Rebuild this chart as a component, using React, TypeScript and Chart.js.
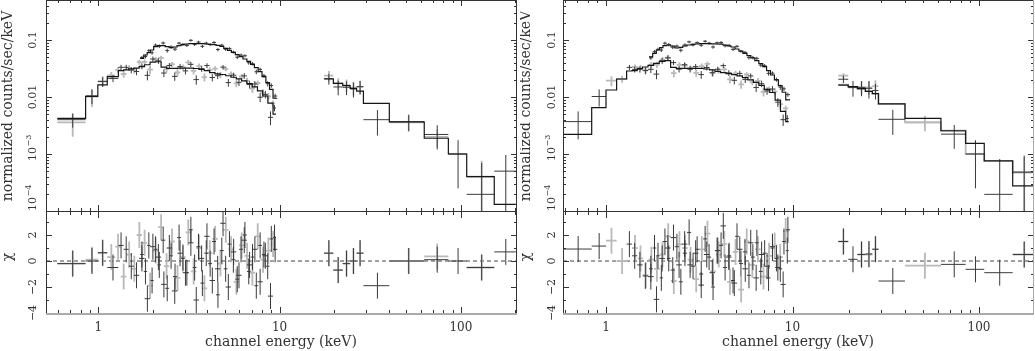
import React, { useEffect, useRef } from "react";
import { Chart, registerables } from "chart.js";

Chart.register(...registerables);

type V = number | null;

// ---------------- axis text ----------------
const X_TICK_VALUES = [1, 10, 100];
const X_TICK_LABELS = ["1", "10", "100"];
const Y_TICK_VALUES_MAIN = [0.1, 0.01, 0.001, 0.0001];
const Y_TICK_LABELS_MAIN = ["0.1", "0.01", "10^\u22123", "10^\u22124"];
const Y_TICK_ALIGN_MAIN = ["center", "center", "center", "start"];
const Y_TICK_VALUES_RES = [2, 0, -2, -4];
const Y_TICK_LABELS_RES = ["2", "0", "\u22122", "\u22124"];
const X_TITLE = "channel energy (keV)";
const Y_TITLE = "normalized counts/sec/keV";
const RES_TITLE = "\u03c7";

// axis ranges
const Y_MAIN_MAX = 0.503;
const Y_MAIN_MIN = 1.624e-6;
const MAIN_FLOOR = 1e-4;
const Y_RES_MIN = -4;
const Y_RES_MAX = 20.077;

// ---------------- shared soft (upper spectrum) binning ----------------
const U_EDGES = [1.70, 1.78, 1.86, 1.94, 2.02, 2.12, 2.22, 2.34, 2.46, 2.58, 2.72, 2.86, 3.00, 3.16, 3.32, 3.48, 3.66, 3.84, 4.04, 4.24, 4.46, 4.68, 4.92, 5.16, 5.42, 5.70, 5.98, 6.28, 6.60, 6.92, 7.26, 7.62, 8.00, 8.40, 8.80, 9.20, 9.70];

// ================= LEFT PANEL =================
const L_U_VAL = [0.0494, 0.0514, 0.0650, 0.0598, 0.0812, 0.0778, 0.0884, 0.0652, 0.0755, 0.0691, 0.0881, 0.0838, 0.0804, 0.0986, 0.0836, 0.0919, 0.0774, 0.0881, 0.0830, 0.0905, 0.0680, 0.0811, 0.0688, 0.0710, 0.0612, 0.0499, 0.0542, 0.0529, 0.0399, 0.0382, 0.0277, 0.0305, 0.0236, 0.0171, 0.0159, 0.0104];
const L_U_ERR = [0.0033, 0.0038, 0.0042, 0.0047, 0.0053, 0.0056, 0.0056, 0.0053, 0.0051, 0.0053, 0.0048, 0.0050, 0.0051, 0.0052, 0.0052, 0.0052, 0.0052, 0.0051, 0.0050, 0.0050, 0.0048, 0.0046, 0.0043, 0.0040, 0.0036, 0.0039, 0.0036, 0.0032, 0.0030, 0.0026, 0.0026, 0.0022, 0.0018, 0.0018, 0.0014, 0.0010];
const L_U_MOD = [0.0477, 0.0545, 0.0600, 0.0668, 0.0764, 0.0795, 0.0795, 0.0764, 0.0734, 0.0754, 0.0795, 0.0828, 0.0850, 0.0862, 0.0862, 0.0862, 0.0862, 0.0850, 0.0840, 0.0830, 0.0806, 0.0774, 0.0714, 0.0659, 0.0608, 0.0553, 0.0510, 0.0464, 0.0423, 0.0374, 0.0327, 0.0278, 0.0227, 0.0178, 0.0136, 0.0095];
const L_U_RES = [0.5, -0.8, 1.2, -1.5, 0.9, -0.3, 1.6, -2.1, 0.4, -1.2, 1.8, 0.2, -0.9, 2.4, -0.5, 1.1, -1.7, 0.6, -0.2, 1.5, -2.6, 0.8, -0.6, 1.3, 0.1, -1.4, 0.9, 2.0, -0.8, 0.3, -1.9, 1.2, 0.5, -0.4, 1.7, 0.9];

const L_S1_EDGES = [0.594, 0.851, 0.994, 1.12, 1.29, 1.38, 1.47, 1.57, 1.68, 1.80, 1.93, 2.07, 2.22, 2.38, 2.55, 2.73, 2.92, 3.13, 3.35, 3.59, 3.84, 4.11, 4.40, 4.71, 5.04, 5.39, 5.77, 6.17, 6.60, 7.06, 7.55, 8.07, 8.62, 9.20, 9.55];
const L_S1_VAL: V[] = [0.0040, 0.0105, 0.0186, 0.0212, 0.0332, 0.0332, 0.0297, 0.0280, 0.0348, 0.0240, 0.0464, 0.0430, 0.0263, 0.0356, 0.0230, 0.0343, 0.0287, 0.0374, 0.0202, 0.0313, 0.0356, 0.0220, 0.0237, 0.0334, 0.0179, 0.0241, 0.0181, 0.0235, 0.0165, 0.0169, 0.0099, 0.0111, 0.0044, 0.0064];
const L_S1_ERR: V[] = [0.0011, 0.0030, 0.0035, 0.0030, 0.0035, 0.0036, 0.0037, 0.0039, 0.0041, 0.0044, 0.0049, 0.0050, 0.0040, 0.0038, 0.0038, 0.0038, 0.0039, 0.0038, 0.0038, 0.0037, 0.0035, 0.0032, 0.0031, 0.0030, 0.0028, 0.0027, 0.0025, 0.0027, 0.0024, 0.0021, 0.0018, 0.0017, 0.0012, 0.0008];
const L_S1_MOD = [0.00423, 0.0102, 0.01625, 0.0227, 0.0290, 0.0300, 0.0312, 0.0322, 0.0340, 0.0368, 0.0410, 0.0415, 0.0335, 0.0318, 0.0318, 0.0320, 0.0322, 0.0320, 0.0316, 0.0306, 0.0290, 0.0268, 0.0255, 0.0248, 0.0236, 0.0222, 0.0208, 0.0192, 0.0172, 0.0150, 0.0128, 0.0104, 0.0078, 0.0050];
const L_S1_RES: V[] = [-0.2, 0.0, 0.64, -0.5, 1.2, 0.9, -0.4, -1.1, 0.2, -2.9, 1.1, 0.3, -1.8, 1.0, -2.3, 0.6, -0.9, 1.4, -3.0, 0.2, 1.9, -1.5, -0.6, 2.9, -2.0, 0.7, -1.1, 1.6, -0.3, 0.9, -1.6, 0.4, -2.7, 1.8];

const L_S2_EDGES = [0.594, 0.851, 0.994, 1.12, 1.24, 1.33, 1.43, 1.53, 1.63, 1.74, 1.86, 2.00, 2.14, 2.30, 2.46, 2.64, 2.83, 3.03, 3.24, 3.47, 3.72, 3.98, 4.26, 4.56, 4.88, 5.22, 5.58, 5.97, 6.39, 6.84, 7.32, 7.83, 8.38, 8.96, 9.45];
const L_S2_VAL: V[] = [0.0036, 0.0102, 0.0190, 0.0240, 0.0300, 0.0253, 0.0324, 0.0295, 0.0409, 0.0413, 0.0301, 0.0455, 0.0485, 0.0309, 0.0375, 0.0269, 0.0333, 0.0406, 0.0287, 0.0348, 0.0223, 0.0299, 0.0314, 0.0245, 0.0312, 0.0254, 0.0174, 0.0229, 0.0192, 0.0141, 0.0176, 0.0118, 0.0103, 0.0077];
const L_S2_ERR: V[] = [0.0016, 0.0035, 0.0040, 0.0035, 0.0035, 0.0035, 0.0037, 0.0038, 0.0040, 0.0042, 0.0047, 0.0050, 0.0044, 0.0039, 0.0038, 0.0038, 0.0039, 0.0039, 0.0038, 0.0037, 0.0036, 0.0033, 0.0031, 0.0030, 0.0029, 0.0027, 0.0026, 0.0024, 0.0025, 0.0023, 0.0019, 0.0019, 0.0015, 0.0010];
const L_S2_RES: V[] = [-0.2, 0.1, 0.6, 0.3, 1.1, -1.2, 0.5, -0.6, 2.0, 1.4, -1.9, 0.8, 2.6, -0.4, 1.5, -1.3, 0.3, 2.2, -0.8, 1.0, -2.1, 0.6, 1.7, -0.2, 2.4, 0.9, -1.6, 1.2, 0.4, -0.9, 1.9, 0.1, 0.8, 1.3];

const L_H_EDGES = [17.6, 19.8, 22.3, 24.5, 26.6, 29.0, 40.3, 62.8, 85.3, 107.7, 152.8, 201];
const L_H_MOD = [0.0207, 0.0174, 0.0158, 0.0142, 0.0127, 0.00775, 0.00364, 0.00189, 0.0010, 0.0004, 0.000131];
const L_H1_VAL: V[] = [0.0210, 0.0150, 0.0148, 0.0138, 0.0152, 0.0040, 0.0037, 0.0022, 0.0010, 0.000196, 0.0005];
const L_H1_ERR: V[] = [0.0045, 0.0043, 0.0040, 0.0040, 0.0040, 0.0019, 0.0012, 0.0010, 0.00075, 0.0005, 0.00046];
const L_H1_RES: V[] = [0.6, -0.7, -0.2, 0.0, 0.6, -1.9, 0.0, 0.1, 0.0, -0.5, 0.7];
const L_H2_VAL: V[] = [0.0237, 0.0174, 0.0162, 0.0146, 0.0150, null, 0.0036, 0.0020, null, 0.0004, null];
const L_H2_ERR: V[] = [0.0050, 0.0040, 0.0040, 0.0040, 0.0040, null, 0.0011, 0.0007, null, 0.00036, null];
const L_H2_RES: V[] = [0.6, -0.7, -0.2, 0.0, 0.6, null, 0.0, 0.35, null, -0.5, null];

// ================= RIGHT PANEL =================
const R_U_VAL = [0.0484, 0.0624, 0.0687, 0.0667, 0.0878, 0.0828, 0.0747, 0.0780, 0.0661, 0.0818, 0.0925, 0.0819, 0.0896, 0.0810, 0.0950, 0.0878, 0.0753, 0.0891, 0.0906, 0.0792, 0.0804, 0.0686, 0.0774, 0.0633, 0.0607, 0.0490, 0.0493, 0.0477, 0.0362, 0.0354, 0.0260, 0.0262, 0.0202, 0.0149, 0.0139, 0.0110];
const R_U_ERR = [0.0035, 0.0041, 0.0047, 0.0051, 0.0056, 0.0057, 0.0055, 0.0051, 0.0052, 0.0055, 0.0049, 0.0050, 0.0051, 0.0052, 0.0052, 0.0052, 0.0051, 0.0051, 0.0051, 0.0049, 0.0047, 0.0045, 0.0042, 0.0038, 0.0035, 0.0037, 0.0034, 0.0030, 0.0027, 0.0024, 0.0023, 0.0019, 0.0016, 0.0016, 0.0012, 0.0009];
const R_U_MOD = [0.0505, 0.0583, 0.0668, 0.0734, 0.0795, 0.0817, 0.0785, 0.0724, 0.0744, 0.0785, 0.0817, 0.0839, 0.0850, 0.0862, 0.0862, 0.0862, 0.0856, 0.0850, 0.0845, 0.0817, 0.0785, 0.0754, 0.0695, 0.0641, 0.0583, 0.0531, 0.0483, 0.0434, 0.0384, 0.0340, 0.0290, 0.0243, 0.0199, 0.0158, 0.0121, 0.0089];
const R_U_RES = [-0.6, 1.0, 0.4, -1.3, 1.5, 0.2, -0.7, 1.1, -1.6, 0.6, 2.2, -0.4, 0.9, -1.0, 1.7, 0.3, -2.0, 0.8, 1.2, -0.5, 0.4, -1.5, 1.9, -0.2, 0.7, -1.1, 0.3, 1.4, -0.8, 0.6, -1.3, 1.0, 0.2, -0.6, 1.5, 2.4];

const R_S1_EDGES = [0.58, 0.838, 1.0, 1.14, 1.29, 1.38, 1.47, 1.57, 1.68, 1.80, 1.93, 2.07, 2.22, 2.38, 2.55, 2.73, 2.92, 3.13, 3.35, 3.59, 3.84, 4.11, 4.40, 4.71, 5.04, 5.39, 5.77, 6.17, 6.60, 7.06, 7.55, 8.07, 8.62, 9.20, 9.55];
const R_S1_VAL: V[] = [0.0037, 0.0102, null, null, 0.0331, 0.0304, 0.0305, 0.0290, 0.0306, 0.0252, 0.0430, 0.0486, 0.0401, 0.0307, 0.0368, 0.0307, 0.0341, 0.0247, 0.0329, 0.0266, 0.0307, 0.0355, 0.0265, 0.0196, 0.0259, 0.0202, 0.0234, 0.0147, 0.0171, 0.0128, 0.0138, 0.0081, 0.0040, 0.0042];
const R_S1_ERR: V[] = [0.0019, 0.0034, null, null, 0.0034, 0.0035, 0.0038, 0.0040, 0.0043, 0.0047, 0.0050, 0.0052, 0.0040, 0.0038, 0.0038, 0.0038, 0.0038, 0.0038, 0.0037, 0.0036, 0.0034, 0.0032, 0.0031, 0.0030, 0.0028, 0.0026, 0.0024, 0.0025, 0.0022, 0.0019, 0.0017, 0.0014, 0.0009, 0.0006];
const R_S1_MOD = [0.00221, 0.0065, 0.01327, 0.0207, 0.0286, 0.0290, 0.0316, 0.0336, 0.0358, 0.0390, 0.0420, 0.0434, 0.0330, 0.0318, 0.0318, 0.0318, 0.0318, 0.0318, 0.0310, 0.0298, 0.0280, 0.0268, 0.0256, 0.0246, 0.0234, 0.0218, 0.0200, 0.0180, 0.0160, 0.0136, 0.0120, 0.0088, 0.0056, 0.0037];
const R_S1_RES: V[] = [0.92, 1.15, null, null, 1.3, 0.4, -0.3, -1.15, -1.2, -2.95, 0.2, 1.0, 1.8, -0.3, 1.3, -0.3, 0.6, -1.85, 0.5, -0.9, 0.8, 2.7, 0.3, -1.7, 0.9, -0.6, 1.4, -1.3, 0.5, -0.4, 1.1, -0.5, -1.8, 0.8];

const R_S2_EDGES = [0.58, 0.838, 1.0, 1.14, 1.30, 1.38, 1.48, 1.58, 1.69, 1.81, 1.94, 2.08, 2.23, 2.39, 2.56, 2.74, 2.94, 3.15, 3.38, 3.62, 3.88, 4.16, 4.46, 4.78, 5.12, 5.49, 5.88, 6.30, 6.75, 7.23, 7.75, 8.30, 8.89, 9.50];
const R_S2_VAL: V[] = [null, null, 0.0193, 0.0207, null, 0.0336, 0.0326, 0.0296, 0.0368, 0.0369, 0.0454, 0.0491, 0.0262, 0.0367, 0.0356, 0.0322, 0.0265, 0.0348, 0.0382, 0.0264, 0.0292, 0.0304, 0.0204, 0.0260, 0.0167, 0.0248, 0.0183, 0.0191, 0.0123, 0.0135, 0.0124, 0.0075, 0.0063];
const R_S2_ERR: V[] = [null, null, 0.0038, 0.0030, null, 0.0036, 0.0038, 0.0041, 0.0044, 0.0048, 0.0051, 0.0048, 0.0039, 0.0038, 0.0038, 0.0038, 0.0038, 0.0038, 0.0037, 0.0035, 0.0033, 0.0032, 0.0030, 0.0029, 0.0027, 0.0025, 0.0023, 0.0024, 0.0021, 0.0018, 0.0017, 0.0012, 0.0007];
const R_S2_RES: V[] = [null, null, 1.56, 0.0, null, 1.0, 0.2, -1.08, 0.1, -0.6, 0.5, 1.9, -1.54, 1.28, 1.0, 0.1, -1.4, 0.9, 2.1, -0.8, 0.5, 1.3, -1.6, 0.7, -2.2, 1.5, -0.3, 0.9, -1.2, 0.4, 1.2, 0.3, 2.3];

const R_H_EDGES = [17.6, 19.9, 22.3, 24.6, 26.8, 28.9, 40.1, 62.5, 84.8, 106.7, 151.6, 198];
const R_H_MOD = [0.0162, 0.0152, 0.0140, 0.0125, 0.0115, 0.0076, 0.0042, 0.00256, 0.00154, 0.00076, 0.000275];
const R_H2_MOD = [0.0165, 0.0150, 0.0138, 0.0127, 0.0115, 0.0076, 0.0036, 0.00256, 0.0010, 0.00076, 0.00047];
const R_H1_VAL: V[] = [0.0205, 0.0146, 0.0146, 0.0142, 0.0130, 0.00406, null, 0.00223, 0.0010, 0.000196, 0.00048];
const R_H1_ERR: V[] = [0.0030, 0.0045, 0.0043, 0.0048, 0.0040, 0.0019, null, 0.0010, 0.00075, 0.00062, 0.00046];
const R_H1_RES: V[] = [1.5, 0.13, 0.5, 0.54, 0.9, -1.54, null, -0.26, -0.64, -0.9, 0.5];
const R_H2_VAL: V[] = [0.0237, null, 0.0150, 0.0148, 0.0155, null, 0.0036, null, null, null, 0.00048];
const R_H2_ERR: V[] = [0.0025, null, 0.0040, 0.0040, 0.0042, null, 0.0011, null, null, null, 0.0004];
const R_H2_RES: V[] = [1.5, null, 0.5, 0.5, 0.92, null, -0.36, null, null, null, 0.5];

// ---------------- styling ----------------
const INK = "#333333";
const MODEL_INK = "#151515";
const DATA_INK = "#3a3a3a";
const GRAY = "#b9b9b9";
const F_XTICK = '12px "DejaVu Serif"';
const F_YTICK = '11px "DejaVu Serif"';
const F_SUP = '8px "DejaVu Serif"';
const F_TITLE = '14px "DejaVu Serif"';

interface XSet { edges: number[]; val: V[]; err: V[]; res: V[]; gray: boolean }
interface MSet { edges: number[]; val: number[]; gray: boolean }
interface Panel {
  xMin: number; xMax: number; padL: number; padR: number;
  yTickX: number; yTitleX: number; rightEdge: string;
  sets: XSet[]; models: MSet[];
}

const LEFT: Panel = {
  xMin: 0.5146, xMax: 201.4, padL: 46, padR: 4, yTickX: 33, yTitleX: 8, rightEdge: INK,
  sets: [
    { edges: U_EDGES, val: L_U_VAL, err: L_U_ERR, res: L_U_RES, gray: false },
    { edges: L_S1_EDGES, val: L_S1_VAL, err: L_S1_ERR, res: L_S1_RES, gray: false },
    { edges: L_S2_EDGES, val: L_S2_VAL, err: L_S2_ERR, res: L_S2_RES, gray: true },
    { edges: L_H_EDGES, val: L_H1_VAL, err: L_H1_ERR, res: L_H1_RES, gray: false },
    { edges: L_H_EDGES, val: L_H2_VAL, err: L_H2_ERR, res: L_H2_RES, gray: true },
  ],
  models: [
    { edges: U_EDGES, val: L_U_MOD, gray: false },
    { edges: L_S1_EDGES, val: L_S1_MOD, gray: false },
    { edges: L_H_EDGES, val: L_H_MOD, gray: false },
  ],
};

const RIGHT: Panel = {
  xMin: 0.588, xMax: 194.8, padL: 43, padR: 2, yTickX: 31.7, yTitleX: 6.7, rightEdge: "#aaaaaa",
  sets: [
    { edges: U_EDGES, val: R_U_VAL, err: R_U_ERR, res: R_U_RES, gray: false },
    { edges: R_S1_EDGES, val: R_S1_VAL, err: R_S1_ERR, res: R_S1_RES, gray: false },
    { edges: R_S2_EDGES, val: R_S2_VAL, err: R_S2_ERR, res: R_S2_RES, gray: true },
    { edges: R_H_EDGES, val: R_H1_VAL, err: R_H1_ERR, res: R_H1_RES, gray: false },
    { edges: R_H_EDGES, val: R_H2_VAL, err: R_H2_ERR, res: R_H2_RES, gray: true },
  ],
  models: [
    { edges: R_H_EDGES, val: R_H2_MOD, gray: true },
    { edges: U_EDGES, val: R_U_MOD, gray: false },
    { edges: R_S1_EDGES, val: R_S1_MOD, gray: false },
    { edges: R_H_EDGES, val: R_H_MOD, gray: false },
  ],
};

// ---------------- geometry ----------------
const CANVAS_H = 351;
const AREA_BOTTOM = 313;
const SEP_Y = 211;

function crossPts(edges: number[], val: V[], err: V[]) {
  const pts: { x: number; y: number | null }[] = [];
  for (let i = 0; i < val.length; i++) {
    const v = val[i], e = err[i];
    if (v == null || e == null) continue;
    const lo = edges[i], hi = edges[i + 1], c = (lo + hi) / 2;
    pts.push({ x: lo, y: v }, { x: hi, y: v }, { x: c, y: null },
      { x: c, y: Math.max(v - e, 1e-9) }, { x: c, y: v + e }, { x: c, y: null });
  }
  return pts;
}
function resPts(edges: number[], res: V[]) {
  const pts: { x: number; y: number | null }[] = [];
  for (let i = 0; i < res.length; i++) {
    const r = res[i];
    if (r == null) continue;
    const lo = edges[i], hi = edges[i + 1], c = (lo + hi) / 2;
    pts.push({ x: lo, y: r }, { x: hi, y: r }, { x: c, y: null },
      { x: c, y: r - 1 }, { x: c, y: r + 1 }, { x: c, y: null });
  }
  return pts;
}
function stepPts(edges: number[], val: number[]) {
  const pts: { x: number; y: number }[] = [];
  for (let i = 0; i < val.length; i++) pts.push({ x: edges[i], y: val[i] }, { x: edges[i + 1], y: val[i] });
  return pts;
}

function rotText(ctx: CanvasRenderingContext2D, text: string, x: number, y: number, font: string) {
  ctx.save();
  ctx.translate(x, y);
  ctx.rotate(-Math.PI / 2);
  ctx.font = font;
  ctx.textAlign = "center";
  ctx.textBaseline = "middle";
  ctx.fillText(text, 0, 0);
  ctx.restore();
}
function rotSup(ctx: CanvasRenderingContext2D, base: string, sup: string, x: number, y: number, mode: string) {
  ctx.save();
  ctx.translate(x, y);
  ctx.rotate(-Math.PI / 2);
  ctx.textAlign = "left";
  ctx.textBaseline = "middle";
  ctx.font = F_YTICK;
  const wb = ctx.measureText(base).width;
  const start = mode === "start" ? 0 : -wb / 2;
  ctx.fillText(base, start, 0);
  ctx.font = F_SUP;
  ctx.fillText(sup, start + wb + 0.5, -4);
  ctx.restore();
}

function decorPlugin(p: Panel) {
  return {
    id: "decor",
    afterDraw(chart: any) {
      const ctx = chart.ctx as CanvasRenderingContext2D;
      const a = chart.chartArea;
      const xs = chart.scales.x, ym = chart.scales.yM, yr = chart.scales.yR;
      const L = Math.round(a.left), R = Math.round(a.right), T = Math.round(a.top), B = Math.round(a.bottom);
      const S = Math.round(ym.getPixelForValue(MAIN_FLOOR));
      const seg = (x1: number, y1: number, x2: number, y2: number) => {
        ctx.beginPath(); ctx.moveTo(x1, y1); ctx.lineTo(x2, y2); ctx.stroke();
      };
      ctx.save();
      ctx.lineWidth = 1;
      ctx.strokeStyle = INK;
      // x ticks (top, separator both sides, bottom)
      for (const d of [0.1, 1, 10, 100]) {
        for (let k = 1; k <= 9; k++) {
          const v = k * d;
          if (v < p.xMin || v > p.xMax) continue;
          const px = Math.round(xs.getPixelForValue(v)) + 0.5;
          const len = k === 1 ? 6 : 3;
          seg(px, T, px, T + len);
          seg(px, S, px, S - len);
          seg(px, S + 1, px, S + 1 + len);
          seg(px, B, px, B - len);
        }
      }
      // main y ticks
      for (const d of [1e-4, 1e-3, 1e-2, 1e-1]) {
        for (let k = 1; k <= 9; k++) {
          const v = k * d;
          if (v < MAIN_FLOOR || v > Y_MAIN_MAX) continue;
          const py = Math.round(ym.getPixelForValue(v)) + 0.5;
          const len = k === 1 ? 6 : 3;
          seg(L, py, L + len, py);
          seg(R + 1, py, R + 1 - len, py);
        }
      }
      // residual y ticks
      for (let v = -4; v <= 3; v++) {
        const py = Math.round(yr.getPixelForValue(v)) + 0.5;
        const len = v % 2 === 0 ? 6 : 3;
        seg(L, py, L + len, py);
        seg(R + 1, py, R + 1 - len, py);
      }
      // frame
      seg(L + 0.5, T, L + 0.5, B + 1);
      seg(L, T + 0.5, R + 1, T + 0.5);
      seg(L, S + 0.5, R + 1, S + 0.5);
      ctx.strokeStyle = p.rightEdge;
      seg(R + 0.5, T, R + 0.5, B + 1);
      ctx.strokeStyle = "#aaaaaa";
      ctx.lineWidth = 2;
      seg(L, B + 1, R + 1, B + 1);

      // labels
      ctx.fillStyle = INK;
      ctx.font = F_XTICK;
      ctx.textAlign = "center";
      ctx.textBaseline = "alphabetic";
      X_TICK_VALUES.forEach((v, i) => ctx.fillText(X_TICK_LABELS[i], xs.getPixelForValue(v), 331));
      ctx.font = F_TITLE;
      ctx.fillText(X_TITLE, (L + R) / 2, 346);

      Y_TICK_VALUES_MAIN.forEach((v, i) => {
        const lab = Y_TICK_LABELS_MAIN[i];
        const py = ym.getPixelForValue(v);
        if (lab.indexOf("^") >= 0) {
          const [b, s] = lab.split("^");
          rotSup(ctx, b, s, p.yTickX, py, Y_TICK_ALIGN_MAIN[i]);
        } else {
          rotText(ctx, lab, p.yTickX, py, F_YTICK);
        }
      });
      Y_TICK_VALUES_RES.forEach((v, i) => rotText(ctx, Y_TICK_LABELS_RES[i], p.yTickX, yr.getPixelForValue(v), F_YTICK));
      rotText(ctx, Y_TITLE, p.yTitleX, 106, F_TITLE);
      rotText(ctx, RES_TITLE, p.yTitleX, 257, F_TITLE);
      ctx.restore();
    },
  };
}

function makeChart(canvas: HTMLCanvasElement, p: Panel) {
  const mainClip = { left: 0, top: 0, right: 0, bottom: -(AREA_BOTTOM - SEP_Y) };
  const resClip = { left: 0, top: -SEP_Y, right: 0, bottom: 0 };
  const datasets: any[] = [];
  for (const m of p.models) {
    datasets.push({
      data: stepPts(m.edges, m.val), yAxisID: "yM",
      borderColor: m.gray ? GRAY : MODEL_INK, borderWidth: m.gray ? 1.8 : 1.2,
      pointRadius: 0, order: m.gray ? 3 : 0, clip: mainClip,
    });
  }
  for (const s of p.sets) {
    const style = {
      borderColor: s.gray ? GRAY : DATA_INK, borderWidth: s.gray ? 1.8 : 1,
      pointRadius: 0, order: s.gray ? 4 : 1, spanGaps: false,
    };
    datasets.push({ ...style, data: crossPts(s.edges, s.val, s.err), yAxisID: "yM", clip: mainClip });
    datasets.push({ ...style, data: resPts(s.edges, s.res), yAxisID: "yR", clip: resClip });
  }
  datasets.push({
    data: [{ x: p.xMin, y: 0 }, { x: p.xMax, y: 0 }], yAxisID: "yR",
    borderColor: "#444444", borderWidth: 1, borderDash: [4, 3], pointRadius: 0, order: 5, clip: resClip,
  });
  return new Chart(canvas, {
    type: "line",
    data: { datasets },
    options: {
      responsive: false,
      animation: false,
      devicePixelRatio: 1,
      events: [],
      layout: { padding: { left: p.padL, right: p.padR, top: 0, bottom: CANVAS_H - AREA_BOTTOM } },
      plugins: { legend: { display: false }, tooltip: { enabled: false } },
      elements: { line: { tension: 0, fill: false }, point: { radius: 0 } },
      scales: {
        x: { type: "logarithmic", min: p.xMin, max: p.xMax, display: false },
        yM: { type: "logarithmic", min: Y_MAIN_MIN, max: Y_MAIN_MAX, display: false },
        yR: { type: "linear", min: Y_RES_MIN, max: Y_RES_MAX, display: false },
      },
    } as any,
    plugins: [decorPlugin(p)],
  });
}

export default function App() {
  const leftRef = useRef<HTMLCanvasElement>(null);
  const rightRef = useRef<HTMLCanvasElement>(null);
  useEffect(() => {
    const c1 = makeChart(leftRef.current!, LEFT);
    const c2 = makeChart(rightRef.current!, RIGHT);
    return () => { c1.destroy(); c2.destroy(); };
  }, []);
  return (
    <div style={{ position: "absolute", left: 0, top: 0, width: 1035, height: 351, background: "#ffffff" }}>
      <canvas ref={leftRef} width={520} height={351} style={{ position: "absolute", left: 0, top: 0 }} />
      <canvas ref={rightRef} width={515} height={351} style={{ position: "absolute", left: 520, top: 0 }} />
    </div>
  );
}
